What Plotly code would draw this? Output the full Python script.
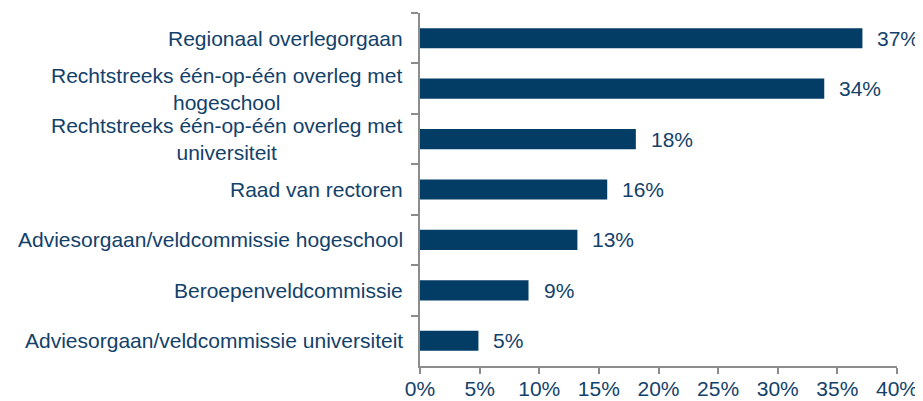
import plotly.graph_objects as go

# Data
categories = [
    "Regionaal overlegorgaan",
    "Rechtstreeks één-op-één overleg met<br>hogeschool",
    "Rechtstreeks één-op-één overleg met<br>universiteit",
    "Raad van rectoren",
    "Adviesorgaan/veldcommissie hogeschool",
    "Beroepenveldcommissie",
    "Adviesorgaan/veldcommissie universiteit",
]
values = [37.1, 33.9, 18.1, 15.7, 13.2, 9.1, 4.9]
value_labels = ["37%", "34%", "18%", "16%", "13%", "9%", "5%"]
tick_vals = [0, 5, 10, 15, 20, 25, 30, 35, 40]
tick_text = ["0%", "5%", "10%", "15%", "20%", "25%", "30%", "35%", "40%"]

bar_color = "#033d66"
text_color = "#12416a"
axis_color = "#8c8c8c"
font = "Liberation Sans, Arial, sans-serif"
fsize = 21

fig = go.Figure(go.Bar(
    x=values,
    y=categories,
    orientation="h",
    marker=dict(color=bar_color, line=dict(width=0)),
    hoverinfo="skip",
))

# value labels to the right of each bar
for cat, v, lab in zip(categories, values, value_labels):
    fig.add_annotation(x=v, y=cat, text=lab, showarrow=False,
                       xanchor="left", xshift=13,
                       font=dict(size=fsize, color=text_color, family=font))

# category labels (multi-line ones are centred)
for cat in categories:
    fig.add_annotation(x=0, xref="paper", y=cat, text=cat, showarrow=False,
                       xanchor="right", xshift=-15, align="center",
                       font=dict(size=fsize, color=text_color, family=font))

fig.update_yaxes(
    categoryorder="array", categoryarray=categories, autorange="reversed",
    showticklabels=False, tickson="boundaries", ticks="outside", ticklen=7,
    tickcolor=axis_color, tickwidth=2, automargin=False,
    showline=True, linecolor=axis_color, linewidth=2, showgrid=False,
)
fig.update_xaxes(
    range=[0, 40], tickvals=tick_vals, ticktext=tick_text,
    ticks="outside", ticklen=6, tickcolor=axis_color, tickwidth=2,
    showline=True, linecolor=axis_color, linewidth=2, showgrid=False,
    zeroline=False, automargin=False, ticklabelstandoff=-3,
    tickfont=dict(size=fsize, color=text_color, family=font),
)

# page body adds an 8px offset, so margins are trimmed by that amount
fig.update_layout(
    width=923, height=401,
    margin=dict(l=412, r=34, t=5, b=43),
    bargap=0.6,
    plot_bgcolor="white", paper_bgcolor="white",
    showlegend=False,
    font=dict(family=font, color=text_color),
)

fig.write_html("out.html")
